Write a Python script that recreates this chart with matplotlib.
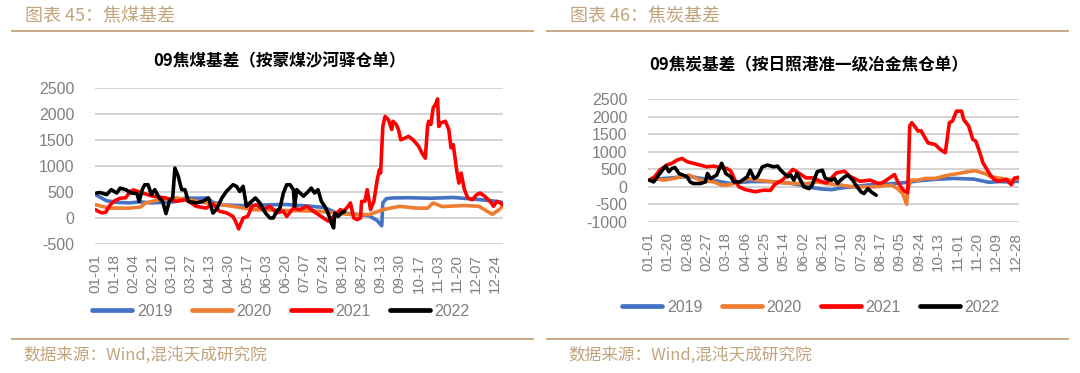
import matplotlib
matplotlib.use("Agg")
import matplotlib.pyplot as plt
from matplotlib.lines import Line2D

# ---------------- data ----------------
years = ["2019", "2020", "2021", "2022"]
colors = ["#4472C4", "#ED7D31", "#FF0000", "#000000"]

# left chart: coking coal basis (day-of-year index, value)
cc_2019_d = [0, 4, 10, 20, 30, 40, 50, 60, 70, 80, 90, 100, 105, 115, 130, 150, 170, 190, 205, 215, 230, 245, 252, 256, 257, 260, 265, 280, 300, 320, 340, 355, 364]
cc_2019_v = [450, 400, 330, 300, 290, 310, 290, 300, 310, 385, 380, 385, 300, 250, 240, 250, 260, 230, 200, 100, 80, 40, -50, -150, 290, 370, 385, 390, 380, 395, 360, 330, 300]

cc_2020_d = [0, 12, 30, 40, 45, 57, 72, 84, 99, 123, 141, 200, 213, 230, 245, 257, 272, 287, 297, 302, 310, 330, 343, 355, 361, 364]
cc_2020_v = [255, 190, 190, 210, 290, 350, 385, 350, 290, 225, 160, 130, 100, 65, 65, 160, 225, 190, 190, 290, 220, 240, 225, 70, 160, 225]

cc_2021_d = [0, 3, 6, 9, 13, 17, 22, 27, 31, 34, 42, 51, 63, 72, 81, 90, 99, 105, 111, 117, 123, 126, 128, 132, 136, 140, 144, 150, 156, 162, 168, 171, 177, 183, 189, 195, 204, 208, 213, 219, 222, 226, 228, 231, 234, 237, 238, 241, 243, 246, 249, 252, 254, 255, 257, 259, 262, 265, 266, 269, 271, 273, 277, 280, 284, 289, 292, 295, 297, 298, 300, 302, 304, 306, 307, 309, 313, 316, 318, 320, 323, 325, 327, 330, 333, 337, 341, 344, 348, 353, 356, 359, 362, 364]
cc_2021_v = [160, 120, 100, 110, 250, 330, 380, 390, 510, 540, 480, 420, 385, 320, 350, 225, 190, 270, 130, 100, 30, -100, -210, 0, 30, 225, 250, 160, 225, 100, 130, 30, 190, 160, 225, 130, 0, -60, 30, 160, 130, 225, 290, 0, -30, 0, 320, 320, 545, 160, 320, 740, 930, 865, 1760, 1955, 1890, 1700, 1860, 1795, 1700, 1505, 1540, 1570, 1505, 1380, 1250, 1150, 1760, 1860, 1800, 2115, 2180, 2290, 1760, 1830, 1860, 1700, 1350, 1410, 930, 670, 865, 545, 385, 350, 450, 480, 420, 320, 225, 320, 290, 255]

cc_2022_d = [1, 4, 10, 14, 19, 22, 27, 32, 37, 39, 42, 44, 47, 50, 53, 57, 60, 63, 66, 69, 71, 74, 77, 80, 83, 90, 96, 101, 105, 108, 113, 117, 123, 126, 129, 132, 135, 138, 143, 147, 152, 156, 159, 162, 165, 168, 171, 174, 177, 178, 180, 183, 186, 189, 193, 196, 199, 202, 205, 208, 211, 213, 214, 217, 220, 223]
cc_2022_v = [480, 490, 450, 545, 480, 575, 545, 480, 470, 320, 560, 640, 640, 450, 545, 385, 320, 85, 320, 385, 960, 800, 545, 545, 320, 290, 320, 385, 95, 160, 385, 510, 640, 610, 510, 610, 225, 290, 385, 290, 95, 0, 0, 130, 190, 480, 640, 640, 545, 225, 545, 480, 420, 480, 575, 480, 545, 320, 225, 95, -100, -190, 95, 30, 95, 130]

# right chart: coke basis
ck_2019_d = [0, 20, 40, 60, 80, 100, 120, 140, 150, 160, 170, 180, 190, 200, 215, 230, 245, 255, 265, 280, 300, 320, 335, 345, 355, 364]
ck_2019_v = [200, 250, 300, 200, 100, 150, 150, 100, 50, -20, -60, -80, -30, 0, 50, 80, 100, 130, 170, 210, 240, 220, 130, 150, 140, 160]

ck_2020_d = [0, 5, 15, 25, 31, 40, 51, 64, 72, 77, 91, 97, 107, 123, 143, 156, 166, 176, 189, 202, 222, 239, 245, 250, 254, 255, 258, 265, 272, 282, 288, 295, 305, 314, 321, 331, 337, 347, 357, 364]
ck_2020_v = [190, 240, 190, 240, 285, 335, 190, 140, 50, 50, 140, 240, 190, 140, 95, 95, 140, 95, 50, 0, 0, 50, -50, -190, -500, -95, 190, 190, 240, 240, 285, 335, 380, 430, 460, 380, 285, 240, 190, 240]

ck_2021_d = [1, 6, 11, 18, 23, 28, 33, 38, 44, 51, 57, 64, 71, 77, 81, 85, 89, 95, 105, 113, 120, 124, 132, 142, 145, 155, 162, 169, 175, 185, 193, 198, 208, 218, 226, 230, 235, 242, 245, 249, 252, 255, 257, 259, 263, 265, 268, 272, 275, 282, 287, 292, 296, 299, 303, 308, 310, 315, 319, 322, 326, 329, 333, 336, 340, 345, 352, 357, 360, 364]
ck_2021_v = [190, 285, 475, 620, 670, 760, 810, 715, 670, 620, 570, 590, 550, 525, 450, 190, 0, -75, -140, -95, -100, 65, 200, 495, 450, 255, 255, 160, 110, 400, 445, 300, 160, 190, 100, 115, 210, 350, 160, -30, -125, -170, 1730, 1825, 1680, 1590, 1600, 1400, 1250, 1205, 1065, 970, 1825, 1870, 2155, 2155, 1920, 1730, 1350, 1300, 970, 690, 495, 350, 210, 160, 210, 60, 250, 270]

ck_2022_d = [1, 5, 10, 15, 17, 20, 23, 26, 30, 34, 38, 41, 44, 51, 56, 58, 61, 64, 67, 72, 76, 81, 84, 90, 97, 100, 104, 107, 112, 117, 123, 127, 130, 137, 140, 143, 146, 153, 158, 161, 166, 171, 174, 180, 183, 186, 189, 193, 196, 201, 204, 209, 212, 216, 219, 224]
ck_2022_v = [190, 140, 335, 525, 590, 430, 525, 550, 380, 335, 285, 140, 95, 95, 140, 380, 240, 285, 335, 670, 380, 285, 140, 140, 285, 475, 240, 285, 570, 620, 570, 590, 475, 285, 335, 190, 380, 0, -50, 50, 430, 475, 240, 190, 240, 95, 190, 285, 335, 190, 50, -140, -190, -50, -140, -240]

cc_ticks = ["01-01", "01-18", "02-04", "02-21", "03-10", "03-27", "04-13", "04-30", "05-17", "06-03", "06-20",
            "07-07", "07-24", "08-10", "08-27", "09-13", "09-30", "10-17", "11-03", "11-20", "12-07", "12-24"]
ck_ticks = ["01-01", "01-20", "02-08", "02-27", "03-18", "04-06", "04-25", "05-14", "06-02", "06-21",
            "07-10", "07-29", "08-17", "09-05", "09-24", "10-13", "11-01", "11-20", "12-09", "12-28"]
cc_yticks = [-500, 0, 500, 1000, 1500, 2000, 2500]
ck_yticks = [-1000, -500, 0, 500, 1000, 1500, 2000, 2500]

header_left = "图表 45：焦煤基差"
header_right = "图表 46：焦炭基差"
title_left = "09焦煤基差（按蒙煤沙河驿仓单）"
title_right = "09焦炭基差（按日照港准一级冶金焦仓单）"
source = "数据来源：Wind,混沌天成研究院"

# ---------------- drawing ----------------
W, H = 1080, 373
fig = plt.figure(figsize=(W / 100, H / 100), dpi=100)
CJK = ["Noto Sans CJK SC", "DejaVu Sans"]
NUM = ["Liberation Sans", "DejaVu Sans"]
TAN = "#C2A47C"
GRAY = "#808080"


def fx(px):
    return px / W


def fy(py):
    return 1 - py / H


def panel(rect, series, ticks, step, yticks, ylim):
    l, t, r, b = rect
    ax = fig.add_axes([fx(l), fy(b), fx(r) - fx(l), fy(t) - fy(b)])
    for (d, v), c, lab in zip(series, colors, years):
        ax.plot(d, v, color=c, lw=2.6, label=lab, solid_joinstyle="round", solid_capstyle="round")
    ax.set_xlim(-0.5, 364.5)
    ax.set_ylim(*ylim)
    ax.set_yticks(yticks)
    ax.set_yticklabels([str(y) for y in yticks], fontfamily=NUM, fontsize=11.5, color=GRAY)
    ax.set_xticks([i * step for i in range(len(ticks))])
    ax.set_xticklabels(ticks, rotation=90, fontfamily=NUM, fontsize=11, color=GRAY)
    ax.tick_params(axis="both", length=0)
    ax.tick_params(axis="y", pad=15)
    ax.tick_params(axis="x", pad=7)
    ax.grid(axis="y", color="#D0D0D0", lw=1.3)
    ax.set_axisbelow(True)
    for s in ax.spines.values():
        s.set_visible(False)
    return ax


ax1 = panel((95, 88, 503, 244),
            [(cc_2019_d, cc_2019_v), (cc_2020_d, cc_2020_v), (cc_2021_d, cc_2021_v), (cc_2022_d, cc_2022_v)],
            cc_ticks, 17, cc_yticks, (-500, 2500))
ax2 = panel((648, 99, 1019, 222),
            [(ck_2019_d, ck_2019_v), (ck_2020_d, ck_2020_v), (ck_2021_d, ck_2021_v), (ck_2022_d, ck_2022_v)],
            ck_ticks, 19, ck_yticks, (-1000, 2500))

for ax, cx, cy in ((ax1, 281, 311), (ax2, 811, 307)):
    handles = [Line2D([0], [0], color=c, lw=3.4, solid_capstyle="round") for c in colors]
    leg = ax.legend(handles, years, ncol=4, loc="center", bbox_to_anchor=(fx(cx), fy(cy)),
                    bbox_transform=fig.transFigure, frameon=False, handlelength=2.5,
                    handletextpad=0.3, columnspacing=1.2, borderaxespad=0,
                    prop={"family": NUM, "size": 11.5})
    for tx in leg.get_texts():
        tx.set_color(GRAY)

# titles
fig.text(fx(280), fy(61), title_left, ha="center", va="center", fontfamily=CJK, fontsize=12,
         fontweight="heavy", color="black")
fig.text(fx(809), fy(65), title_right, ha="center", va="center", fontfamily=CJK, fontsize=12,
         fontweight="heavy", color="black")

# headers & footers
fig.text(fx(25), fy(16), header_left, ha="left", va="center", fontfamily=CJK, fontsize=13, color=TAN)
fig.text(fx(570), fy(16), header_right, ha="left", va="center", fontfamily=CJK, fontsize=13, color=TAN)
fig.text(fx(23), fy(355), source, ha="left", va="center", fontfamily=CJK, fontsize=12, color=TAN)
fig.text(fx(568), fy(355), source, ha="left", va="center", fontfamily=CJK, fontsize=12, color=TAN)

for (x0, x1) in ((12, 533), (547, 1068)):
    for yy in (31, 339):
        fig.add_artist(Line2D([fx(x0), fx(x1)], [fy(yy), fy(yy)], transform=fig.transFigure,
                              color=TAN, lw=1.3))

fig.savefig("out.png", dpi=100)
